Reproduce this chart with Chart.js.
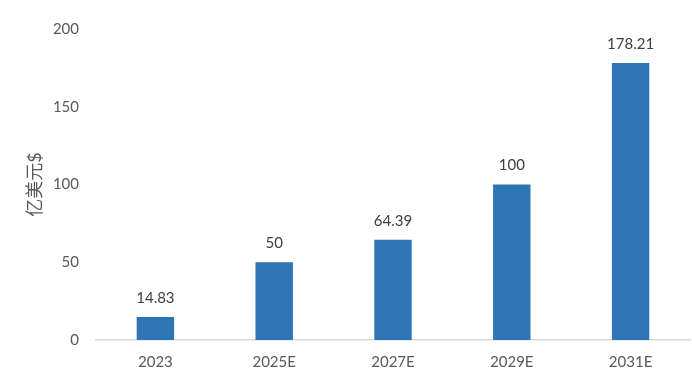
<!DOCTYPE html>
<html><head><meta charset="utf-8">
<script src="https://cdn.jsdelivr.net/npm/chart.js@4"></script>
<style>html,body{margin:0;padding:0;background:#fff}#w{width:692px;height:380px}</style>
</head><body><div id="w"><canvas id="c"></canvas></div>
<script>
const categories = ['2023', '2025E', '2027E', '2029E', '2031E'];
const values = [14.83, 50, 64.39, 100, 178.21];
const valueLabels = ['14.83', '50', '64.39', '100', '178.21'];
const yTicks = [0, 50, 100, 150, 200];
const yTitle = '亿美元$';

const FONT = 'Lato, "Noto Sans CJK SC", sans-serif';

const labelPlugin = {
  id: 'valueLabels',
  afterDatasetsDraw(chart) {
    const ctx = chart.ctx;
    const meta = chart.getDatasetMeta(0);
    ctx.save();
    ctx.font = '15px ' + FONT;
    ctx.fillStyle = '#404040';
    ctx.textAlign = 'center';
    ctx.textBaseline = 'middle';
    meta.data.forEach((bar, i) => {
      ctx.fillText(valueLabels[i], bar.x, bar.y - 19);
    });
    ctx.restore();
  }
};

new Chart(document.getElementById('c'), {
  type: 'bar',
  data: {
    labels: categories,
    datasets: [{
      data: values,
      backgroundColor: '#2E75B6',
      categoryPercentage: 1,
      barPercentage: 0.315
    }]
  },
  options: {
    responsive: true,
    maintainAspectRatio: false,
    animation: false,
    devicePixelRatio: 1,
    layout: { padding: { top: 29, right: 2, left: 0, bottom: 0 } },
    plugins: { legend: { display: false }, tooltip: { enabled: false } },
    scales: {
      x: {
        grid: { display: false, drawTicks: false },
        border: { display: true, color: '#d9d9d9', width: 1.5 },
        ticks: { color: '#595959', font: { family: FONT, size: 15 }, padding: 13 },
        afterFit(s) { s.height = 40; }
      },
      y: {
        min: 0, max: 200,
        afterBuildTicks(s) { s.ticks = yTicks.map(v => ({ value: v })); },
        grid: { display: false, drawTicks: false },
        border: { display: false },
        ticks: { color: '#595959', font: { family: FONT, size: 15 }, padding: 17 },
        title: { display: true, text: yTitle, color: '#595959', font: { family: FONT, size: 18 }, padding: { top: 24, bottom: 0 } },
        afterFit(s) { s.width = 96; }
      }
    }
  },
  plugins: [labelPlugin]
});
</script>
</body></html>
